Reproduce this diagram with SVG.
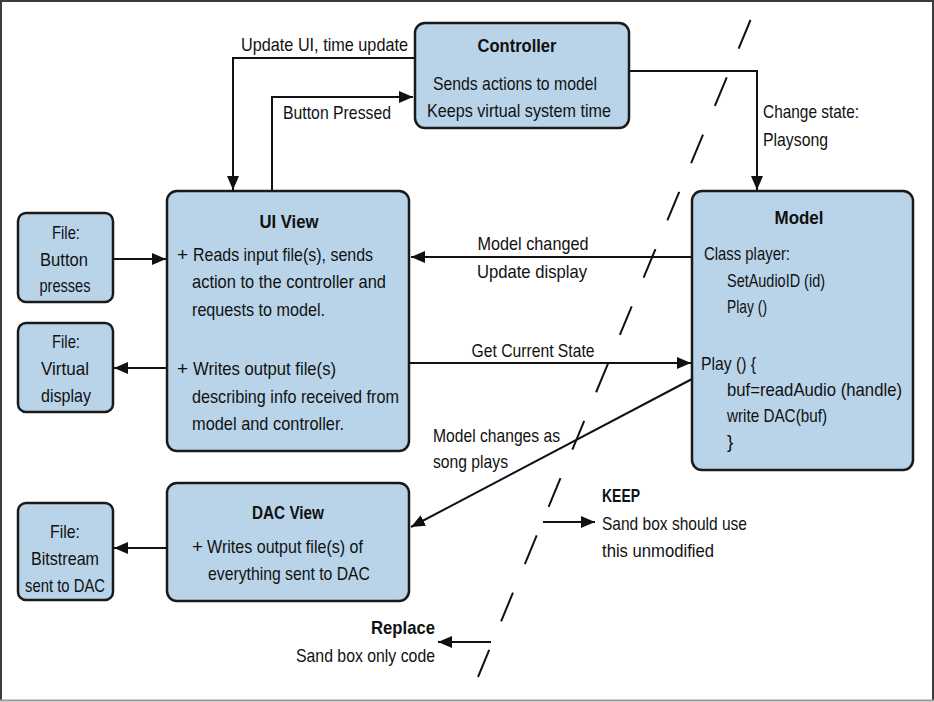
<svg xmlns="http://www.w3.org/2000/svg" width="934" height="702" viewBox="0 0 934 702">
<defs>
<marker id="arr" markerUnits="userSpaceOnUse" markerWidth="15" markerHeight="12" refX="14" refY="6" orient="auto">
<path d="M0,0 L14,6 L0,12 Z" fill="#111"/>
</marker>
</defs>
<style>
.box{fill:#b9d4e9;stroke:#1a1a1a;stroke-width:2.5}
.t{font-family:"Liberation Sans",Arial,sans-serif;font-size:19px;fill:#111}
.b{font-weight:bold}
.m{text-anchor:middle}
.e{text-anchor:end}
.c{fill:none;stroke:#111;stroke-width:2}
.dash{fill:none;stroke:#111;stroke-width:2;stroke-dasharray:31 31}
</style>
<rect x="0" y="0" width="934" height="702" fill="#fff"/>
<path d="M1,700 V1 H933 V700" fill="none" stroke="#3c3c3c" stroke-width="2"/>
<path d="M0,700.5 H934" stroke="#9a9a9a" stroke-width="2"/>

<g id="connectors">
<path class="c" d="M415,58 H233 V190" marker-end="url(#arr)"/>
<path class="c" d="M272,191 V97 H413" marker-end="url(#arr)"/>
<path class="c" d="M629,71 H757 V190" marker-end="url(#arr)"/>
<path class="c" d="M692,257 H411" marker-end="url(#arr)"/>
<path class="c" d="M409,363 H691" marker-end="url(#arr)"/>
<path class="c" d="M692,379 L411,527" marker-end="url(#arr)"/>
<path class="c" d="M113,259 H166" marker-end="url(#arr)"/>
<path class="c" d="M167,368 H114" marker-end="url(#arr)"/>
<path class="c" d="M167,548 H114" marker-end="url(#arr)"/>
<path class="c" d="M543,522 H595" marker-end="url(#arr)"/>
<path class="c" d="M491,642 H438" marker-end="url(#arr)"/>
<text class="t" x="241" y="51" textLength="167" lengthAdjust="spacingAndGlyphs">Update UI, time update</text>
<text class="t" x="283" y="119" textLength="108" lengthAdjust="spacingAndGlyphs">Button Pressed</text>
<text class="t" x="763" y="118" textLength="96" lengthAdjust="spacingAndGlyphs">Change state:</text>
<text class="t" x="763" y="146" textLength="65" lengthAdjust="spacingAndGlyphs">Playsong</text>
<text class="t m" x="533" y="250" textLength="111" lengthAdjust="spacingAndGlyphs">Model changed</text>
<text class="t m" x="532" y="278" textLength="110" lengthAdjust="spacingAndGlyphs">Update display</text>
<text class="t m" x="533" y="357" textLength="123" lengthAdjust="spacingAndGlyphs">Get Current State</text>
<text class="t" x="433" y="442" textLength="127" lengthAdjust="spacingAndGlyphs">Model changes as</text>
<text class="t" x="433" y="468" textLength="75" lengthAdjust="spacingAndGlyphs">song plays</text>
</g>

<g id="controller">
<rect class="box" x="415" y="23" width="214" height="105" rx="10"/>
<text class="t b m" x="517" y="52" textLength="79" lengthAdjust="spacingAndGlyphs">Controller</text>
<text class="t m" x="515" y="90" textLength="164" lengthAdjust="spacingAndGlyphs">Sends actions to model</text>
<text class="t m" x="519" y="117" textLength="184" lengthAdjust="spacingAndGlyphs">Keeps virtual system time</text>
</g>

<g id="ui-view">
<rect class="box" x="167" y="191" width="242" height="260" rx="10"/>
<text class="t b m" x="289" y="228" textLength="59" lengthAdjust="spacingAndGlyphs">UI View</text>
<text class="t" x="177" y="261">+</text>
<text class="t" x="193" y="261" textLength="180" lengthAdjust="spacingAndGlyphs">Reads input file(s), sends</text>
<text class="t" x="192" y="288" textLength="194" lengthAdjust="spacingAndGlyphs">action to the controller and</text>
<text class="t" x="192" y="316" textLength="133" lengthAdjust="spacingAndGlyphs">requests to model.</text>
<text class="t" x="177" y="375">+</text>
<text class="t" x="193" y="375" textLength="143" lengthAdjust="spacingAndGlyphs">Writes output file(s)</text>
<text class="t" x="192" y="403" textLength="207" lengthAdjust="spacingAndGlyphs">describing info received from</text>
<text class="t" x="192" y="430" textLength="152" lengthAdjust="spacingAndGlyphs">model and controller.</text>
</g>

<g id="model">
<rect class="box" x="692" y="191" width="221" height="279" rx="10"/>
<text class="t b m" x="799" y="224" textLength="49" lengthAdjust="spacingAndGlyphs">Model</text>
<text class="t" x="704" y="260" textLength="86" lengthAdjust="spacingAndGlyphs">Class player:</text>
<text class="t" x="727" y="287" textLength="98" lengthAdjust="spacingAndGlyphs">SetAudioID (id)</text>
<text class="t" x="727" y="313" textLength="40" lengthAdjust="spacingAndGlyphs">Play ()</text>
<text class="t" x="701" y="370" textLength="55" lengthAdjust="spacingAndGlyphs">Play () {</text>
<text class="t" x="727" y="396" textLength="175" lengthAdjust="spacingAndGlyphs">buf=readAudio (handle)</text>
<text class="t" x="727" y="422" textLength="100" lengthAdjust="spacingAndGlyphs">write DAC(buf)</text>
<text class="t" x="727" y="448">}</text>
</g>

<g id="file-button">
<rect class="box" x="18" y="213" width="95" height="89" rx="8"/>
<text class="t m" x="66" y="239" textLength="28" lengthAdjust="spacingAndGlyphs">File:</text>
<text class="t m" x="64" y="266" textLength="48" lengthAdjust="spacingAndGlyphs">Button</text>
<text class="t m" x="65" y="292" textLength="51" lengthAdjust="spacingAndGlyphs">presses</text>
</g>

<g id="file-virtual">
<rect class="box" x="18" y="323" width="95" height="89" rx="8"/>
<text class="t m" x="66" y="348" textLength="28" lengthAdjust="spacingAndGlyphs">File:</text>
<text class="t m" x="65" y="375" textLength="48" lengthAdjust="spacingAndGlyphs">Virtual</text>
<text class="t m" x="66" y="402" textLength="50" lengthAdjust="spacingAndGlyphs">display</text>
</g>

<g id="dac-view">
<rect class="box" x="167" y="483" width="242" height="118" rx="10"/>
<text class="t b m" x="288" y="519" textLength="72" lengthAdjust="spacingAndGlyphs">DAC View</text>
<text class="t" x="192" y="553">+</text>
<text class="t" x="207" y="553" textLength="156" lengthAdjust="spacingAndGlyphs">Writes output file(s) of</text>
<text class="t" x="208" y="580" textLength="162" lengthAdjust="spacingAndGlyphs">everything sent to DAC</text>
</g>

<g id="file-bitstream">
<rect class="box" x="18" y="503" width="95" height="97" rx="8"/>
<text class="t m" x="65" y="538" textLength="30" lengthAdjust="spacingAndGlyphs">File:</text>
<text class="t m" x="65" y="565" textLength="68" lengthAdjust="spacingAndGlyphs">Bitstream</text>
<text class="t m" x="65" y="592" textLength="80" lengthAdjust="spacingAndGlyphs">sent to DAC</text>
</g>

<g id="keep">
<text class="t b" x="602" y="502" textLength="38" lengthAdjust="spacingAndGlyphs">KEEP</text>
<text class="t" x="602" y="530" textLength="145" lengthAdjust="spacingAndGlyphs">Sand box should use</text>
<text class="t" x="602" y="557" textLength="112" lengthAdjust="spacingAndGlyphs">this unmodified</text>
</g>

<g id="replace">
<text class="t b e" x="435" y="634" textLength="64" lengthAdjust="spacingAndGlyphs">Replace</text>
<text class="t e" x="435" y="662" textLength="139" lengthAdjust="spacingAndGlyphs">Sand box only code</text>
</g>

<path class="dash" d="M750.5,20 L478,677"/>
</svg>
